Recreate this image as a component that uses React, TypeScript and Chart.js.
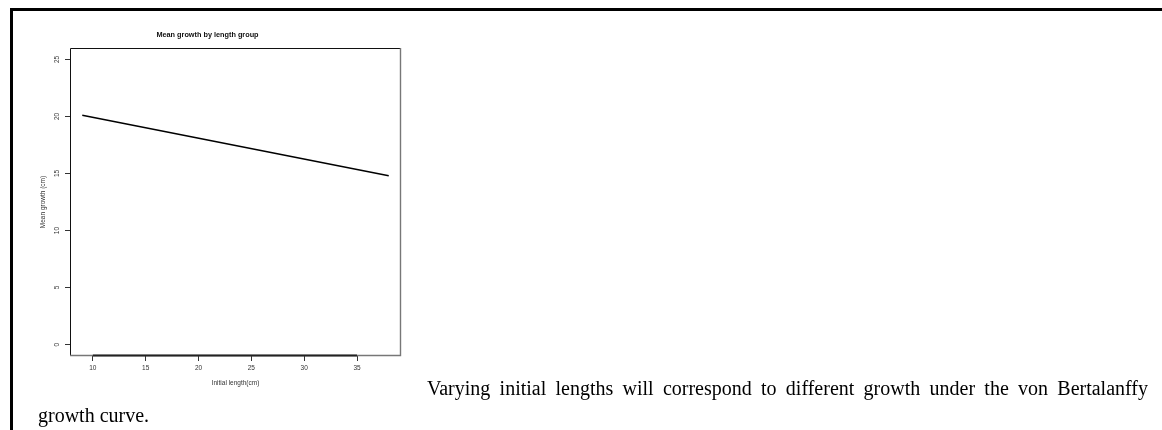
import { useEffect, useRef } from "react";
import { Chart, registerables } from "chart.js";

Chart.register(...registerables);

// Mean growth per initial length group
const initialLength = [9, 38];
const meanGrowth = [20.1, 14.8];

// Axis ticks and ranges
const xTicks = [10, 15, 20, 25, 30, 35];
const yTicks = [0, 5, 10, 15, 20, 25];
const xRange = [7.84, 39.16];
const yRange = [-1, 26];

// Labels
const chartTitle = "Mean growth by length group";
const xTitle = "Initial length(cm)";
const yTitle = "Mean growth (cm)";
const bodyText =
  "Varying initial lengths will correspond to different growth under the von Bertalanffy growth curve.";

const SANS = "'Liberation Sans', Arial, sans-serif";
const INK = "#333";

// Draws the plot box and the x-axis segment spanning the first to last tick
const framePlugin = {
  id: "frame",
  afterDraw(chart: any) {
    const { ctx, chartArea: a, scales } = chart;
    ctx.save();
    ctx.lineWidth = 1;
    // top and left edges
    ctx.strokeStyle = "#111";
    ctx.beginPath();
    ctx.moveTo(a.left + 0.5, a.bottom);
    ctx.lineTo(a.left + 0.5, a.top + 0.5);
    ctx.lineTo(a.right, a.top + 0.5);
    ctx.stroke();
    // right and bottom edges
    ctx.strokeStyle = "#777";
    ctx.lineWidth = 1.4;
    ctx.beginPath();
    ctx.moveTo(a.right - 0.5, a.top);
    ctx.lineTo(a.right - 0.5, a.bottom - 0.5);
    ctx.lineTo(a.left, a.bottom - 0.5);
    ctx.stroke();

    const xs = scales.x;
    ctx.strokeStyle = "#222";
    ctx.lineWidth = 1.8;
    ctx.beginPath();
    ctx.moveTo(xs.getPixelForValue(xTicks[0]), a.bottom - 0.5);
    ctx.lineTo(xs.getPixelForValue(xTicks[xTicks.length - 1]), a.bottom - 0.5);
    ctx.stroke();
    ctx.restore();
  },
};

function GrowthChart() {
  const ref = useRef<HTMLCanvasElement | null>(null);

  useEffect(() => {
    if (!ref.current) return;
    const tickFont = { family: SANS, size: 6.5 };
    const chart = new Chart(ref.current, {
      type: "line",
      data: {
        datasets: [
          {
            data: initialLength.map((x, i) => ({ x, y: meanGrowth[i] })),
            borderColor: "#000",
            borderWidth: 1.4,
            pointRadius: 0,
            fill: false,
            tension: 0,
          },
        ],
      },
      options: {
        animation: false,
        responsive: false,
        events: [],
        layout: { padding: { left: 0, right: 13, top: 0, bottom: 2 } },
        plugins: {
          legend: { display: false },
          tooltip: { enabled: false },
          title: {
            display: true,
            text: chartTitle,
            color: "#111",
            font: { family: SANS, size: 7.3, weight: "bold", lineHeight: 1.2 },
            padding: { top: 16.6, bottom: 8.64 },
          },
        },
        scales: {
          x: {
            type: "linear",
            position: "bottom",
            min: xRange[0],
            max: xRange[1],
            afterBuildTicks: (s: any) => {
              s.ticks = xTicks.map((value) => ({ value }));
            },
            afterFit: (s: any) => {
              s.height = 36;
            },
            grid: { drawOnChartArea: false, drawTicks: true, tickLength: 5, color: INK, lineWidth: 1 },
            border: { display: false },
            ticks: { font: tickFont, color: INK, padding: 3.5, maxRotation: 0, autoSkip: false },
            title: {
              display: true,
              text: xTitle,
              color: INK,
              font: { family: SANS, size: 6.5, lineHeight: 1.2 },
              padding: { top: 0, bottom: 4.5 },
            },
          },
          y: {
            type: "linear",
            position: "left",
            min: yRange[0],
            max: yRange[1],
            afterBuildTicks: (s: any) => {
              s.ticks = yTicks.map((value) => ({ value }));
            },
            afterFit: (s: any) => {
              s.width = 56;
            },
            grid: { drawOnChartArea: false, drawTicks: true, tickLength: 5, color: INK, lineWidth: 1 },
            border: { display: false },
            ticks: {
              font: tickFont,
              color: INK,
              padding: 4.4,
              minRotation: 90,
              maxRotation: 90,
              crossAlign: "center",
              autoSkip: false,
            },
            title: {
              display: true,
              text: yTitle,
              color: INK,
              font: { family: SANS, size: 6.5, lineHeight: 1.2 },
              padding: { top: 25.1, bottom: 0 },
            },
          },
        },
      },
      plugins: [framePlugin],
    } as any);
    return () => chart.destroy();
  }, []);

  return (
    <canvas
      ref={ref}
      width={400}
      height={380}
      style={{ position: "absolute", left: 14, top: 14, width: 400, height: 380 }}
    />
  );
}

export default function App() {
  return (
    <div>
      <div
        style={{
          position: "absolute",
          left: 10,
          top: 8,
          width: 1152,
          height: 422,
          boxSizing: "border-box",
          borderLeft: "3px solid #000",
          borderTop: "3px solid #000",
        }}
      />
      <GrowthChart />
      <p
        style={{
          position: "absolute",
          left: 38,
          top: 375,
          width: 1110,
          margin: 0,
          textIndent: 389,
          textAlign: "justify",
          fontFamily: "'Liberation Serif', 'Times New Roman', serif",
          fontSize: 20,
          lineHeight: "26.5px",
          color: "#000",
        }}
      >
        {bodyText}
      </p>
    </div>
  );
}
